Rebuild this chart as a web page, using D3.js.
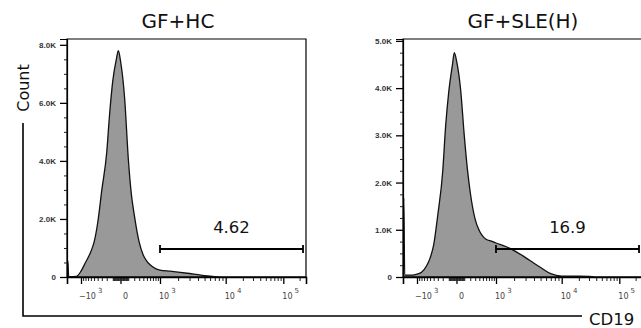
<!DOCTYPE html>
<html>
<head>
<meta charset="utf-8">
<script src="https://cdn.jsdelivr.net/npm/d3@7"></script>
<style>
  body { margin: 0; background: #fff; }
  svg { display: block; font-family: "DejaVu Sans", sans-serif; }
  .tick text { fill: #333; }
</style>
</head>
<body>
<svg id="chart" width="641" height="328"></svg>
<script>
// sample names and gate percentages
const titles = ["GF+HC", "GF+SLE(H)"];
const gatePct = ["4.62", "16.9"];
const gateRange = [1000, 231000];

// CD19 bin positions (shared) and counts per sample
const cd19 = [-1700, -1650, -1600, -1500, -1200, -1000, -800, -600, -500, -400, -300, -200, -150, -100, -50, -25, 0,
  50, 100, 150, 200, 300, 400, 500, 600, 800, 1000, 1500, 2000, 3000, 4000, 5000, 7000,
  10000, 20000, 30000, 40000, 50000, 100000, 262144];
const countsHC = [0, 560, 20, 10, 20, 200, 500, 880, 1200, 1860, 3000, 4300, 5600, 6750, 7500, 7800, 7450,
  6150, 4100, 2830, 2140, 1200, 750, 540, 420, 290, 240, 200, 170, 120, 80, 50, 15,
  0, 0, 0, 0, 0, 0, 0];
const countsSLE = [0, 1670, 40, 40, 40, 60, 100, 250, 400, 680, 1320, 2240, 3180, 3920, 4480, 4750, 4580,
  3960, 3000, 2280, 1790, 1220, 980, 860, 800, 760, 720, 640, 560, 410, 290, 200, 70,
  20, 20, 15, 0, 0, 0, 0];

// y axis setup per panel
const yMax = [8200, 5040];
const yMajor = [[0, 2000, 4000, 6000, 8000], [0, 1000, 2000, 3000, 4000, 5000]];
const yMinorStep = [500, 250];

// biexponential-like display axis break points
const xDomain = [-1700, -1000, 0, 1000, 10000, 100000, 262144];
const xMajor = [-1000, 0, 1000, 10000, 100000];

const panelX = [67, 403], plotW = 239, plotTop = 39, plotBottom = 277;
const svg = d3.select("#chart");

const xFrac = [0, 14, 53.5, 93, 158.7, 216.3, 239];

// minor ticks
let xMinor = [];
for (let s of [-1, 1]) {
  for (let k = 1; k <= 9; k++) { xMinor.push(s * k * 10); xMinor.push(s * k * 100); }
}
for (let k = 2; k <= 9; k++) { xMinor.push(k * 1000); xMinor.push(k * 10000); }
xMinor.push(200000);

titles.forEach((title, i) => {
  const g = svg.append("g").attr("transform", `translate(${panelX[i]},0)`);

  const x = d3.scaleSymlog().constant(300).domain(xDomain).range(xFrac);
  const y = d3.scaleLinear().domain([0, yMax[i]]).range([plotBottom, plotTop]);

  const counts = i === 0 ? countsHC : countsSLE;
  const data = cd19.map((v, j) => ({ v: v, c: counts[j] }));

  const clipId = "clip" + i;
  g.append("clipPath").attr("id", clipId)
    .append("rect").attr("x", 0).attr("y", plotTop).attr("width", plotW).attr("height", plotBottom - plotTop);

  const area = d3.area()
    .x(d => x(d.v))
    .y0(y(0))
    .y1(d => y(d.c))
    .curve(d3.curveMonotoneX);

  g.append("path")
    .datum(data)
    .attr("clip-path", `url(#${clipId})`)
    .attr("d", area)
    .attr("fill", "#999")
    .attr("stroke", "#111")
    .attr("stroke-width", 1.3)
    .attr("stroke-linejoin", "round");

  // frame
  g.append("path")
    .attr("d", `M0,${plotBottom}V${plotTop}H${plotW}V${plotBottom}`)
    .attr("fill", "none").attr("stroke", "#000").attr("stroke-width", 1.2);

  // y axis
  let yMinor = d3.range(0, yMax[i], yMinorStep[i]).filter(v => !yMajor[i].includes(v));
  g.append("g")
    .call(d3.axisLeft(y).tickValues(yMinor).tickSize(3).tickFormat(""))
    .call(a => a.select(".domain").remove())
    .selectAll("line").attr("stroke", "#222");
  g.append("g")
    .call(d3.axisLeft(y).tickValues(yMajor[i]).tickSize(7).tickPadding(4)
      .tickFormat(d => d === 0 ? "0" : (d / 1000).toFixed(1) + "K"))
    .call(a => a.select(".domain").attr("stroke", "#000").attr("stroke-width", 1.2))
    .call(a => a.selectAll("text").attr("font-size", 8).attr("font-weight", "bold").attr("fill", "#555"))
    .selectAll("line").attr("stroke", "#000").attr("stroke-width", 1.3);

  // x axis
  const xAxisG = g.append("g").attr("transform", `translate(0,${plotBottom})`);
  xAxisG.append("g")
    .call(d3.axisBottom(x).tickValues(xMinor).tickSize(4).tickFormat(""))
    .call(a => a.select(".domain").remove())
    .selectAll("line").attr("stroke", "#222");
  xAxisG.append("g")
    .call(d3.axisBottom(x).tickValues(xMajor).tickSize(7).tickFormat(""))
    .call(a => a.select(".domain").attr("stroke", "#000").attr("stroke-width", 1.6))
    .selectAll("line").attr("stroke", "#000").attr("stroke-width", 1.3);

  xMajor.forEach(v => {
    const t = xAxisG.append("text")
      .attr("y", 22)
      .attr("font-size", 8)
      .attr("fill", "#444");
    if (v === 0) {
      t.attr("x", x(v) + 2.5).text("0");
    } else {
      t.attr("x", x(v) + (v < 0 ? -2 : -1));
      t.append("tspan").text((v < 0 ? "\u2212" : "") + "10");
      t.append("tspan").attr("dx", 2).attr("dy", -6).attr("font-size", 7).text(Math.round(Math.log10(Math.abs(v))));
    }
  });

  // gate
  const gateY = plotBottom - 28;
  const gx0 = x(gateRange[0]), gx1 = x(gateRange[1]);
  g.append("path")
    .attr("d", `M${gx0},${gateY}H${gx1}M${gx0},${gateY - 4}V${gateY + 4}M${gx1},${gateY - 4}V${gateY + 4}`)
    .attr("stroke", "#000").attr("stroke-width", 1.8).attr("fill", "none");
  g.append("text")
    .attr("x", (gx0 + gx1) / 2)
    .attr("y", gateY - 16.5)
    .attr("text-anchor", "middle")
    .attr("font-size", 16.5)
    .attr("fill", "#111")
    .text(gatePct[i]);

  // title
  svg.append("text")
    .attr("x", i === 0 ? 178 : 523)
    .attr("y", 28)
    .attr("text-anchor", "middle")
    .attr("font-size", 20)
    .attr("fill", "#111")
    .text(title);
});

// shared outer axis
svg.append("path")
  .attr("d", "M23,123V316H582")
  .attr("fill", "none").attr("stroke", "#000").attr("stroke-width", 1.6);
svg.append("text")
  .attr("transform", "translate(28.5,88) rotate(-90)")
  .attr("text-anchor", "middle")
  .attr("font-size", 16)
  .attr("fill", "#111")
  .text("Count");
svg.append("text")
  .attr("x", 589)
  .attr("y", 325)
  .attr("font-size", 16.5)
  .attr("fill", "#111")
  .text("CD19");
</script>
</body>
</html>
